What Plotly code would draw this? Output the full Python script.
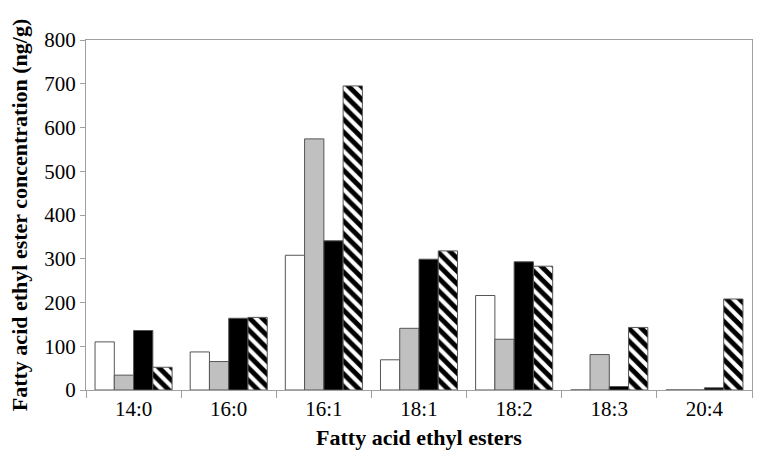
import plotly.graph_objects as go

categories = ["14:0", "16:0", "16:1", "18:1", "18:2", "18:3", "20:4"]
series_white = [110, 87, 308, 69, 216, 0, 0]
series_gray = [34, 65, 574, 141, 116, 81, 0]
series_black = [136, 164, 341, 299, 293, 8, 5]
series_hatched = [52, 166, 695, 318, 283, 143, 208]
y_ticks = [0, 100, 200, 300, 400, 500, 600, 700, 800]

FONT = "Liberation Serif, Times New Roman, DejaVu Serif, serif"
outline = dict(color="#555555", width=1)

fig = go.Figure()
fig.add_trace(go.Bar(x=categories, y=series_white, marker=dict(color="white", line=outline)))
fig.add_trace(go.Bar(x=categories, y=series_gray, marker=dict(color="#c0c0c0", line=outline)))
fig.add_trace(go.Bar(x=categories, y=series_black, marker=dict(color="black", line=outline)))
fig.add_trace(go.Bar(x=categories, y=series_hatched,
                     marker=dict(color="white", line=outline,
                                 pattern=dict(shape="\\", fgcolor="#000000", bgcolor="white",
                                              fgopacity=1, size=9, solidity=0.55,
                                              fillmode="overlay"))))

fig.update_layout(
    width=762, height=466,
    margin=dict(l=86, r=10, t=40, b=76),
    barmode="group", bargap=0.19, bargroupgap=0,
    showlegend=False,
    plot_bgcolor="white", paper_bgcolor="white",
    font=dict(family=FONT, color="black", size=20),
)
fig.update_xaxes(
    showline=True, linecolor="#a0a0a0", linewidth=1, mirror=True,
    ticks="outside", tickson="boundaries", ticklen=7, tickcolor="#a0a0a0",
    showgrid=False, tickfont=dict(size=21, family=FONT, color="black"),
    title=dict(text="<b>Fatty acid ethyl esters</b>", font=dict(size=22, family=FONT), standoff=9),
)
fig.update_yaxes(
    range=[0, 800], tickvals=y_ticks,
    showline=True, linecolor="#a0a0a0", linewidth=1, mirror=True,
    ticks="outside", ticklen=5, tickcolor="#a0a0a0",
    showgrid=False, zeroline=False, tickfont=dict(size=21, family=FONT, color="black"),
    title=dict(text="<b>Fatty acid ethyl ester concentration (ng/g)</b>", font=dict(size=22, family=FONT), standoff=10),
)

fig.write_html("out.html", config={"displayModeBar": False},
               post_script="document.body.style.margin='0';document.body.style.padding='0';")
